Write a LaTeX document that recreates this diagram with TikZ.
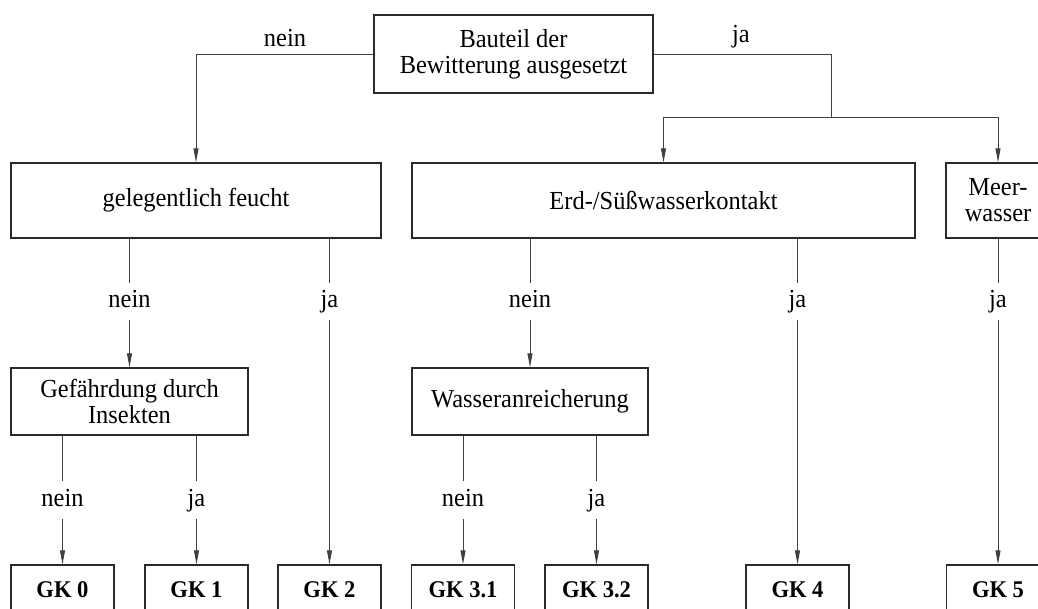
\documentclass[tikz,border=0pt]{standalone}
\usepackage{fontspec}
\setmainfont{Liberation Serif}[FakeStretch=0.94]
\usetikzlibrary{arrows.meta}
\definecolor{boxc}{HTML}{2A2A2A}
\definecolor{linec}{HTML}{404040}
\begin{document}
\begin{tikzpicture}[x=1pt,y=-1pt,
 box/.style={draw=boxc, line width=1.4pt, inner sep=0pt, align=center, font=\fontsize{26}{26}\selectfont},
 gk/.style={draw=boxc, line width=1.4pt, inner sep=0pt, minimum width=103pt, minimum height=50pt, text height=15pt, text depth=0pt, font=\fontsize{24}{26}\selectfont\bfseries},
 conn/.style={draw=linec, line width=1pt},
 arr/.style={conn, -{Triangle[length=14pt,width=5pt]}},
 lbl/.style={inner sep=0pt, text height=24.5pt, text depth=12.5pt, font=\fontsize{26}{26}\selectfont},
 tlbl/.style={inner sep=0pt, anchor=base, font=\fontsize{26}{26}\selectfont},
]
\useasboundingbox (0,0) rectangle (1038,608);
\fill[white] (0,0) rectangle (1038,608);
\clip (0,0) rectangle (1038,608);

% boxes
\node[box, minimum width=279pt, minimum height=78pt] (top) at (513.5,54) {Bauteil der\\Bewitterung ausgesetzt};
\node[box, minimum width=370pt, minimum height=75pt] (gel) at (196,200.5) {gelegentlich feucht};
\node[box, minimum width=503pt, minimum height=75pt] (erd) at (663.5,200.5) {Erd-/Süßwasserkontakt};
\node[box, minimum width=104pt, minimum height=75pt] (meer) at (998,200.5) {Meer-\\wasser};
\node[box, minimum width=237pt, minimum height=67pt] (gef) at (129.5,401.5) {Gefährdung durch\\Insekten};
\node[box, minimum width=236pt, minimum height=67pt] (was) at (530,401.5) {Wasseranreicherung};

\node[gk] (gk0) at (62.5,590) {GK~0};
\node[gk] (gk1) at (196.5,590) {GK~1};
\node[gk] (gk2) at (329.5,590) {GK~2};
\node[gk] (gk31) at (463,590) {GK~3.1};
\node[gk] (gk32) at (596.5,590) {GK~3.2};
\node[gk] (gk4) at (797.5,590) {GK~4};
\node[gk] (gk5) at (998,590) {GK~5};

% top labels
\node[tlbl] (tnein) at (285,46) {nein};
\node[tlbl] (tja) at (741,42) {ja};

% top connectors
\draw[arr] (top.west) -| (gel.north);
\coordinate (split) at (831,117);
\draw[conn] (top.east) -| (split);
\draw[arr] (split) -| (erd.north);
\draw[arr] (split) -| (meer.north);

% level 1 labels
\node[lbl] (la) at (129.5,301.5) {nein};
\node[lbl] (lb) at (329.5,301.5) {ja};
\node[lbl] (lc) at (530,301.5) {nein};
\node[lbl] (ld) at (797.5,301.5) {ja};
\node[lbl] (le) at (998,301.5) {ja};

\draw[conn] (gel.south -| la.north) -- (la.north);
\draw[arr] (la.south) -- (gef.north);
\draw[conn] (gel.south -| lb.north) -- (lb.north);
\draw[arr] (lb.south) -- (gk2.north);
\draw[conn] (erd.south -| lc.north) -- (lc.north);
\draw[arr] (lc.south) -- (was.north);
\draw[conn] (erd.south -| ld.north) -- (ld.north);
\draw[arr] (ld.south) -- (gk4.north);
\draw[conn] (meer.south) -- (le.north);
\draw[arr] (le.south) -- (gk5.north);

% level 2 labels
\node[lbl] (lf) at (62.5,500) {nein};
\node[lbl] (lg) at (196.5,500) {ja};
\node[lbl] (lh) at (463,500) {nein};
\node[lbl] (li) at (596.5,500) {ja};

\draw[conn] (gef.south -| lf.north) -- (lf.north);
\draw[arr] (lf.south) -- (gk0.north);
\draw[conn] (gef.south -| lg.north) -- (lg.north);
\draw[arr] (lg.south) -- (gk1.north);
\draw[conn] (was.south -| lh.north) -- (lh.north);
\draw[arr] (lh.south) -- (gk31.north);
\draw[conn] (was.south -| li.north) -- (li.north);
\draw[arr] (li.south) -- (gk32.north);
\end{tikzpicture}
\end{document}
